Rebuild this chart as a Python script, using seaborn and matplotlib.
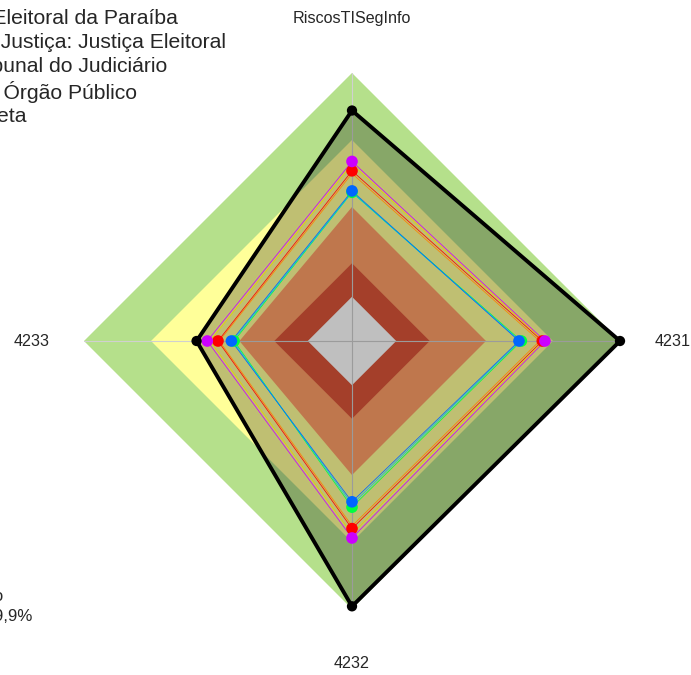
import numpy as np
import pandas as pd
import matplotlib
matplotlib.use("Agg")
import matplotlib.pyplot as plt
import seaborn as sns

sns.set_style("white")
plt.rcParams['font.family'] = ['Liberation Sans', 'DejaVu Sans']

# eixos do radar (sentido horário a partir do topo)
eixos = ["RiscosTISegInfo", "4231", "4232", "4233"]

# faixas de fundo (raio relativo por eixo)
faixa_verde = [1.0, 1.0, 1.0, 1.0]
faixa_amarela = [0.75, 0.75, 0.75, 0.75]
faixa_laranja = [0.5, 0.5, 0.5, 0.42]
faixa_vermelha = [0.29, 0.29, 0.29, 0.29]
faixa_branca = [0.165, 0.165, 0.165, 0.165]

# valores das séries
orgao = [0.86, 1.0, 0.99, 0.58]
serie_magenta = [0.67, 0.72, 0.735, 0.54]
serie_amarela = [0.66, 0.715, 0.72, 0.53]
serie_vermelha = [0.635, 0.71, 0.70, 0.50]
serie_laranja = [0.625, 0.70, 0.69, 0.495]
serie_azul = [0.56, 0.623, 0.60, 0.45]
serie_ciano = [0.555, 0.627, 0.61, 0.445]
serie_verde = [0.555, 0.632, 0.62, 0.44]

legenda = ["Órgão: Tribunal Regional Eleitoral da Paraíba",
           "Segmento de Justiça: Justiça Eleitoral",
           "Tipo: Tribunal do Judiciário",
           "Natureza: Órgão Público",
           "Situação: Completa"]
rodape = ["Resultado do órgão",
          "RiscosTISegInfo: 89,9%"]

theta = np.array([0, np.pi / 2, np.pi, 3 * np.pi / 2])


def xy(vals):
    r = np.array(vals)
    x = r * np.sin(theta)
    y = r * np.cos(theta)
    return np.append(x, x[0]), np.append(y, y[0])


W, H = 691, 675
fig = plt.figure(figsize=(W / 100, H / 100), dpi=100)
ax = fig.add_axes([0, 0, 1, 1])
cx, cy, R = 352, 334, 268
ax.set_xlim(-cx / R, (W - cx) / R)
ax.set_ylim(-cy / R, (H - cy) / R)
ax.axis('off')

# faixas
for vals, cor in [(faixa_verde, '#b5e08b'), (faixa_amarela, '#ffff99'),
                  (faixa_laranja, '#ffa068'), (faixa_vermelha, '#dc5539'),
                  (faixa_branca, '#ffffff')]:
    x, y = xy(vals)
    ax.fill(x, y, color=cor, lw=0, zorder=1)

# raios
for t in theta:
    ax.plot([0, np.sin(t)], [0, np.cos(t)], color='#d0d0d0', lw=0.8, zorder=2)

# preenchimento do órgão
x, y = xy(orgao)
ax.fill(x, y, color='black', alpha=0.25, lw=0, zorder=3)

series = [(serie_verde, '#00ff40'), (serie_ciano, '#00c8e0'), (serie_azul, '#0066ff'),
          (serie_laranja, '#ff8000'), (serie_vermelha, '#ff0000'),
          (serie_amarela, '#e6d000'), (serie_magenta, '#cc00ff')]
for vals, cor in series:
    x, y = xy(vals)
    ax.plot(x, y, color=cor, lw=0.55, zorder=4)
for vals, cor in series:
    if cor in ('#00c8e0', '#ff8000', '#e6d000'):
        continue
    x, y = xy(vals)
    sns.scatterplot(x=x[:-1], y=y[:-1], color=cor, s=70, edgecolor='none',
                    ax=ax, zorder=5, legend=False)

x, y = xy(orgao)
ax.plot(x, y, color='black', lw=2.8, zorder=6)
sns.scatterplot(x=x[:-1], y=y[:-1], color='black', s=55, edgecolor='none',
                ax=ax, zorder=7, legend=False)

# rótulos dos eixos
for t, nome in zip(theta, eixos):
    ax.text(1.195 * np.sin(t), 1.205 * np.cos(t), nome, ha='center', va='center',
            fontsize=11.6, zorder=8)

# legenda (cortada na borda esquerda)
ends = [178, 226, 167, 137, 27]
for i, (linha, xe) in enumerate(zip(legenda, ends)):
    fig.text(xe / W, 1 - (17 + 25 * i) / H, linha, ha='right', va='center',
             fontsize=15.2)
for i, (linha, xe) in enumerate(zip(rodape, [3, 32])):
    fig.text(xe / W, 1 - (596 + 21 * i) / H, linha, ha='right', va='center',
             fontsize=12.2)

fig.savefig('out.png', dpi=100)
